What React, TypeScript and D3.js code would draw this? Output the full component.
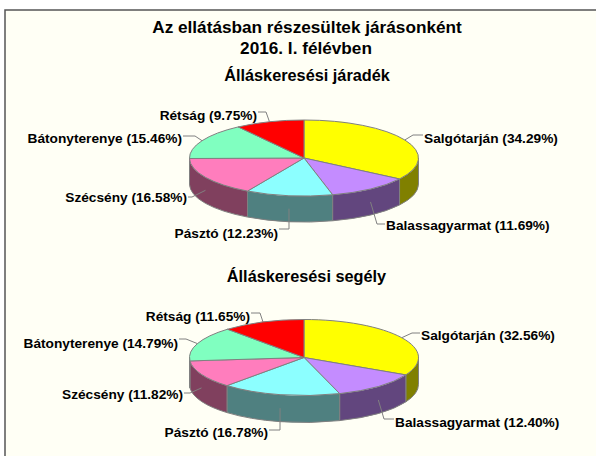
import React from "react";
import * as d3 from "d3";

const title1 = "Az ellátásban részesültek járásonként";
const title2 = "2016. I. félévben";
const subtitleA = "Álláskeresési járadék";
const subtitleB = "Álláskeresési segély";
const categories = ["Salgótarján", "Balassagyarmat", "Pásztó", "Szécsény", "Bátonyterenye", "Rétság"];
const valuesA = [34.29, 11.69, 12.23, 16.58, 15.46, 9.75];
const valuesB = [32.56, 12.4, 16.78, 11.82, 14.79, 11.65];
const topColors = ["#ffff00", "#c48cff", "#8cffff", "#ff7dbd", "#80ffc0", "#ff0000"];
const sideColors = ["#808000", "#62467e", "#4f8080", "#80405e", "#408060", "#800000"];

type L = { x: number; y: number; a: "start" | "end"; ex: number; ey: number; side: boolean };
const layoutA: L[] = [
  { x: 424, y: 143, a: "start", ex: 413, ey: 135, side: false },
  { x: 386, y: 230, a: "start", ex: 377, ey: 224, side: true },
  { x: 278, y: 238, a: "end", ex: 289, ey: 229, side: true },
  { x: 187, y: 202, a: "end", ex: 192, ey: 197, side: true },
  { x: 182, y: 143, a: "end", ex: 195, ey: 136, side: false },
  { x: 257, y: 120, a: "end", ex: 266, ey: 112, side: false },
];
const layoutB: L[] = [
  { x: 421, y: 340, a: "start", ex: 412, ey: 333, side: false },
  { x: 395, y: 427, a: "start", ex: 384, ey: 419, side: true },
  { x: 268, y: 437, a: "end", ex: 280, ey: 430, side: true },
  { x: 183, y: 399, a: "end", ex: 190, ey: 393, side: true },
  { x: 178, y: 348, a: "end", ex: 186, ey: 339, side: false },
  { x: 250, y: 321, a: "end", ex: 260, ey: 313, side: false },
];

const RX = 114.5;
const font = "'Liberation Sans', Arial, sans-serif";

function Pie3D({ cx, cy, ry, depth, values, layout }: { cx: number; cy: number; ry: number; depth: number; values: number[]; layout: L[] }) {
  const arcs = d3.pie<number>().sort(null)(values);
  const sx = d3.scaleLinear().domain([-1, 1]).range([cx - RX, cx + RX]);
  const sy = d3.scaleLinear().domain([-1, 1]).range([cy - ry, cy + ry]);
  const px = (a: number) => sx(Math.sin(a));
  const py = (a: number) => sy(-Math.cos(a));
  const arcPath = (a0: number, a1: number) => {
    const large = a1 - a0 > Math.PI ? 1 : 0;
    return `A${RX},${ry} 0 ${large} 1 ${px(a1)},${py(a1)}`;
  };
  const stroke = "#808080";
  const sides = arcs.map((d, i) => {
    const a0 = Math.max(d.startAngle, Math.PI / 2);
    const a1 = Math.min(d.endAngle, (3 * Math.PI) / 2);
    if (a1 <= a0) return null;
    const dp =
      `M${px(a0)},${py(a0)} ${arcPath(a0, a1)} L${px(a1)},${py(a1) + depth} ` +
      `A${RX},${ry} 0 0 0 ${px(a0)},${py(a0) + depth} Z`;
    return <path key={i} d={dp} fill={sideColors[i]} stroke={stroke} strokeWidth={1} />;
  });
  const tops = arcs.map((d, i) => (
    <path
      key={i}
      d={`M${cx},${cy} L${px(d.startAngle)},${py(d.startAngle)} ${arcPath(d.startAngle, d.endAngle)} Z`}
      fill={topColors[i]}
      stroke={stroke}
      strokeWidth={1}
    />
  ));
  const leaders = arcs.map((d, i) => {
    const m = (d.startAngle + d.endAngle) / 2;
    const l = layout[i];
    const x0 = px(m);
    const y0 = py(m) + (l.side ? depth / 2 : 0);
    const tx = l.a === "start" ? l.x - 1 : l.x + 1;
    return (
      <polyline
        key={i}
        points={`${x0},${y0} ${l.ex},${l.ey} ${tx},${l.ey}`}
        fill="none"
        stroke="#808080"
        strokeWidth={1}
      />
    );
  });
  const labels = arcs.map((d, i) => (
    <text key={i} x={layout[i].x} y={layout[i].y} textAnchor={layout[i].a} fontSize={13.7} fontWeight="bold" fontFamily={font} fill="#000">
      {`${categories[i]} (${values[i].toFixed(2)}%)`}
    </text>
  ));
  return (
    <g>
      {sides}
      {tops}
      {leaders}
      {labels}
    </g>
  );
}

export default function App() {
  return (
    <svg
      width={596}
      height={456}
      style={{ position: "absolute", left: 0, top: 0, display: "block" }}
      viewBox="0 0 596 456"
    >
      <rect x={0} y={0} width={596} height={456} fill="#ffffff" />
      <rect x={5} y={10} width={600} height={460} fill="#fffff5" stroke="#555555" strokeWidth={1.5} />
      <g fontFamily={font} fontWeight="bold" textAnchor="middle" fill="#000">
        <text x={307} y={33} fontSize={17.2}>{title1}</text>
        <text x={306} y={54} fontSize={17.2}>{title2}</text>
        <text x={307} y={81} fontSize={16.3}>{subtitleA}</text>
        <text x={306.5} y={282} fontSize={16.3}>{subtitleB}</text>
      </g>
      <Pie3D cx={304} cy={158} ry={38} depth={26} values={valuesA} layout={layoutA} />
      <Pie3D cx={304} cy={357.5} ry={38} depth={27} values={valuesB} layout={layoutB} />
    </svg>
  );
}
